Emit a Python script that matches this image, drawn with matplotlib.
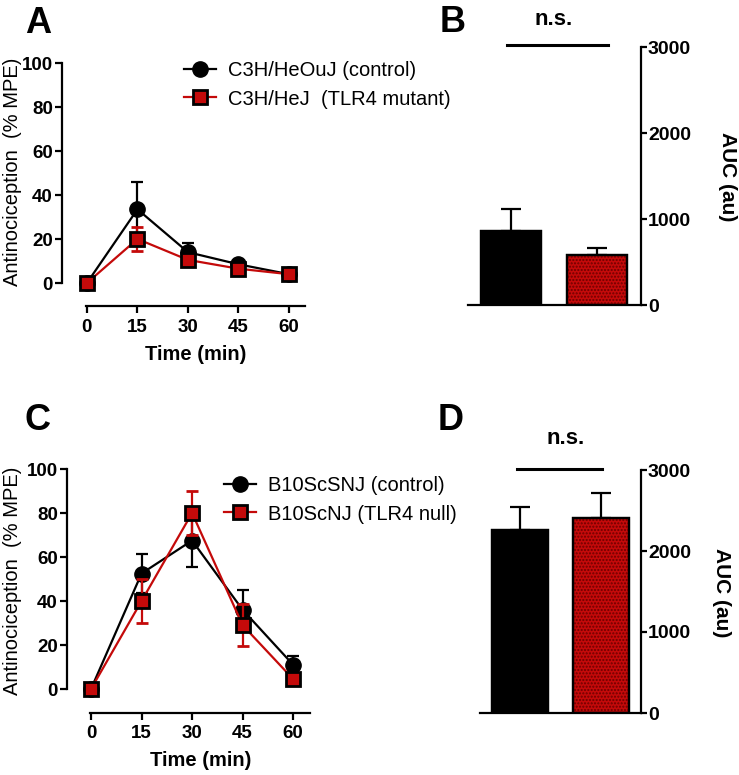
import matplotlib
matplotlib.use("Agg")
import matplotlib.pyplot as plt
from matplotlib.lines import Line2D

plt.rcParams['font.family'] = ['Liberation Sans', 'DejaVu Sans']

# data
time = [0, 15, 30, 45, 60]
a_ctrl = [0, 33.5, 14, 8.5, 4]
a_ctrl_err = [0, 12.5, 4, 1.5, 1]
a_mut = [0, 20, 10.5, 6.5, 4]
a_mut_err = [0, 5.5, 2, 1, 1]

c_ctrl = [0, 52.5, 67.5, 36, 11]
c_ctrl_err = [0, 8.7, 12, 9, 4]
c_mut = [0, 40, 80, 29, 4.5]
c_mut_err = [0, 10, 10, 9.5, 1]

auc_b = [860, 581]
auc_b_err = [256, 82]
auc_d = [2259, 2407]
auc_d_err = [284, 309]

a_labels = ["C3H/HeOuJ (control)", "C3H/HeJ  (TLR4 mutant)"]
c_labels = ["B10ScSNJ (control)", "B10ScNJ (TLR4 null)"]

W, H = 739, 775
RED = '#c40a0a'
fig = plt.figure(figsize=(W / 100, H / 100), dpi=100)


def px_axes(l, t, r, b):
    return fig.add_axes([l / W, 1 - b / H, (r - l) / W, (b - t) / H])


def line_panel(ax, ctrl, ctrl_err, mut, mut_err, xlo, xstart, xhi, offset):
    ax.errorbar(time, ctrl, yerr=ctrl_err, color='black', lw=1.6, marker='o',
                ms=11, mfc='black', mec='black', capsize=4.5, elinewidth=1.6,
                capthick=1.6, clip_on=False, zorder=3)
    ax.errorbar(time, mut, yerr=mut_err, color=RED, lw=1.6, marker='s',
                ms=10, mfc=RED, mec='black', mew=2, ecolor=RED, capsize=4.5,
                elinewidth=1.6, capthick=1.6, clip_on=False, zorder=4)
    ax.set_xlim(xlo, xhi)
    ax.set_ylim(0, 100)
    for s in ['top', 'right']:
        ax.spines[s].set_visible(False)
    for s in ['left', 'bottom']:
        ax.spines[s].set_linewidth(1.6)
    ax.spines['bottom'].set_position(('outward', offset * 0.72))
    ax.spines['bottom'].set_bounds(xstart, xhi)
    ax.set_xticks(time)
    ax.set_yticks([0, 20, 40, 60, 80, 100])
    ax.tick_params(length=5, width=1.6, pad=1.5, labelsize=13.5)
    ax.tick_params(axis='x', pad=4)
    for t in ax.get_xticklabels() + ax.get_yticklabels():
        t.set_fontweight('bold')
    ax.patch.set_visible(False)


def bar_panel(ax, vals, errs, xlo, xhi):
    x = [0, 1]
    ax.bar(x, vals, width=0.7, color=['black', RED], edgecolor='black',
           lw=1.6, zorder=2)
    ax.bar([1], [vals[1]], width=0.7, color='none', edgecolor='#6e0000',
           hatch='.....', lw=0, zorder=3)
    ax.bar(x, vals, width=0.7, color='none', edgecolor='black', lw=1.6,
           zorder=4)
    ax.errorbar(x, vals, yerr=[[0, 0], errs], fmt='none', ecolor='black',
                elinewidth=1.6, capsize=7, capthick=1.6, zorder=1)
    ax.set_xlim(xlo, xhi)
    ax.set_ylim(0, 3000)
    for s in ['top', 'left']:
        ax.spines[s].set_visible(False)
    ax.spines['right'].set_linewidth(1.6)
    ax.spines['bottom'].set_linewidth(1.6)
    ax.yaxis.tick_right()
    ax.set_yticks([0, 1000, 2000, 3000])
    ax.set_xticks([])
    ax.tick_params(axis='y', length=4, width=1.6, pad=1, labelsize=14)
    for t in ax.get_yticklabels():
        t.set_fontweight('bold')
    ax.patch.set_visible(False)


# Panel A
axA = px_axes(62, 63, 305, 283)
line_panel(axA, a_ctrl, a_ctrl_err, a_mut, a_mut_err, -7.4, -0.3, 64.75, 23)
fig.text(13 / W, 1 - 172 / H, "Antinociception  (% MPE)", rotation=90,
         ha='center', va='center', fontsize=14.5)
fig.text(196 / W, 1 - 355 / H, "Time (min)", ha='center', va='center',
         fontsize=14.5, fontweight='bold')

# Panel C
axC = px_axes(67, 469, 310, 689)
line_panel(axC, c_ctrl, c_ctrl_err, c_mut, c_mut_err, -7.13, -0.3, 65.0, 24)
fig.text(13 / W, 1 - 581 / H, "Antinociception  (% MPE)", rotation=90,
         ha='center', va='center', fontsize=14.5)
fig.text(201 / W, 1 - 760 / H, "Time (min)", ha='center', va='center',
         fontsize=14.5, fontweight='bold')


def legend_at(labels, x, y):
    h = [Line2D([], [], color='black', lw=1.6, marker='o', ms=11),
         Line2D([], [], color=RED, lw=1.6, marker='s', ms=10, mfc=RED,
                mec='black', mew=2)]
    fig.legend(h, labels, loc='center left', bbox_to_anchor=(x / W, 1 - y / H),
               frameon=False, fontsize=14.5, handlelength=1.6,
               handletextpad=0.6, labelspacing=0.45, borderpad=0,
               borderaxespad=0)


legend_at(a_labels, 184, 85)
legend_at(c_labels, 224, 500)

# Panel B
axB = px_axes(468, 47, 641, 305)
bar_panel(axB, auc_b, auc_b_err, -0.5, 1.51)
axB.plot([-0.047, 1.128], [3023, 3023], color='black', lw=2.2, clip_on=False)
axB.text(0.49, 3314, "n.s.", ha='center', va='center', fontsize=16,
         fontweight='bold')
fig.text(727 / W, 1 - 177 / H, "AUC (au)", rotation=270, ha='center',
         va='center', fontsize=15, fontweight='bold')

# Panel D
axD = px_axes(480, 470, 641, 713)
bar_panel(axD, auc_d, auc_d_err, -0.5, 1.5)
axD.plot([-0.04, 1.02], [3012, 3012], color='black', lw=2.2, clip_on=False)
axD.text(0.56, 3395, "n.s.", ha='center', va='center', fontsize=16,
         fontweight='bold')
fig.text(722 / W, 1 - 593 / H, "AUC (au)", rotation=270, ha='center',
         va='center', fontsize=15, fontweight='bold')

# panel letters
for lab, x, y in [("A", 38, 33), ("B", 453, 32), ("C", 38, 430), ("D", 451, 430)]:
    fig.text(x / W, 1 - y / H, lab, ha='center', va='baseline', fontsize=26,
             fontweight='bold')

fig.savefig("out.png", dpi=100)
